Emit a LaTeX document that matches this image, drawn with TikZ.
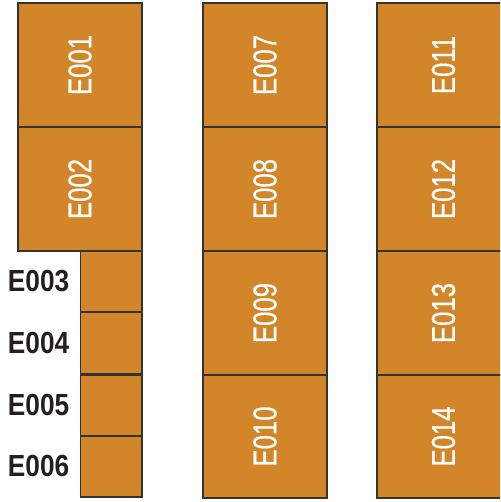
\documentclass[tikz,border=0pt]{standalone}
\usepackage{fontspec}
\setmainfont{Liberation Sans}
\newfontfamily\infont[FakeBold=0.6]{Liberation Sans}
\definecolor{boxfill}{HTML}{D38629}
\definecolor{boxline}{HTML}{333333}
\definecolor{labelink}{HTML}{231F20}
\tikzset{
  box/.style={draw=boxline, fill=boxfill, line width=1.2pt, inner sep=0pt, rectangle},
  intext/.style={text=white, rotate=90, inner sep=0pt, font=\infont\fontsize{33}{33}\selectfont},
  outtext/.style={text=labelink, inner sep=0pt, anchor=east, font=\fontsize{30.5}{30.5}\selectfont\bfseries}
}
\begin{document}
\begin{tikzpicture}[x=1pt,y=1pt]
\useasboundingbox (0,0) rectangle (500,502);
\clip (0,0) rectangle (500,502);
% column 1
\node[box, minimum width=124pt, minimum height=124pt] (b1) at (80,437) {};
\node[box, minimum width=124pt, minimum height=124pt] (b2) at (80,313) {};
\node[box, minimum width=61.5pt, minimum height=61pt] (b3) at (111.25,220.5) {};
\node[box, minimum width=61.5pt, minimum height=62pt] (b4) at (111.25,159) {};
\node[box, minimum width=61.5pt, minimum height=61pt] (b5) at (111.25,96.5) {};
\node[box, minimum width=61.5pt, minimum height=61pt] (b6) at (111.25,35.5) {};
% column 2
\node[box, minimum width=124pt, minimum height=124pt] (b7) at (265,437) {};
\node[box, minimum width=124pt, minimum height=124pt] (b8) at (265,313) {};
\node[box, minimum width=124pt, minimum height=124pt] (b9) at (265,189) {};
\node[box, minimum width=124pt, minimum height=123pt] (b10) at (265,65.5) {};
% column 3
\node[box, minimum width=133pt, minimum height=124pt] (b11) at (443.5,437) {};
\node[box, minimum width=133pt, minimum height=124pt] (b12) at (443.5,313) {};
\node[box, minimum width=133pt, minimum height=124pt] (b13) at (443.5,189) {};
\node[box, minimum width=133pt, minimum height=123pt] (b14) at (443.5,65.5) {};
% inner labels
\node[intext] (t1) at (b1.center) {\scalebox{0.78}[1]{E001}};
\node[intext] (t2) at (b2.center) {\scalebox{0.78}[1]{E002}};
\node[intext] (t7) at (b7.center) {\scalebox{0.78}[1]{E007}};
\node[intext] (t8) at (b8.center) {\scalebox{0.78}[1]{E008}};
\node[intext] (t9) at (b9.center) {\scalebox{0.78}[1]{E009}};
\node[intext] (t10) at (b10.center) {\scalebox{0.78}[1]{E010}};
\node[intext] (t11) at (b11.center) {\scalebox{0.78}[1]{E011}};
\node[intext] (t12) at (b12.center) {\scalebox{0.78}[1]{E012}};
\node[intext] (t13) at (b13.center) {\scalebox{0.78}[1]{E013}};
\node[intext] (t14) at (b14.center) {\scalebox{0.78}[1]{E014}};
% outer labels
\node[outtext] (t3) at ([xshift=-10.5pt]b3.west) {\scalebox{0.86}[1]{E003}};
\node[outtext] (t4) at ([xshift=-10.5pt]b4.west) {\scalebox{0.86}[1]{E004}};
\node[outtext] (t5) at ([xshift=-10.5pt]b5.west) {\scalebox{0.86}[1]{E005}};
\node[outtext] (t6) at ([xshift=-10.5pt]b6.west) {\scalebox{0.86}[1]{E006}};
\end{tikzpicture}
\end{document}
